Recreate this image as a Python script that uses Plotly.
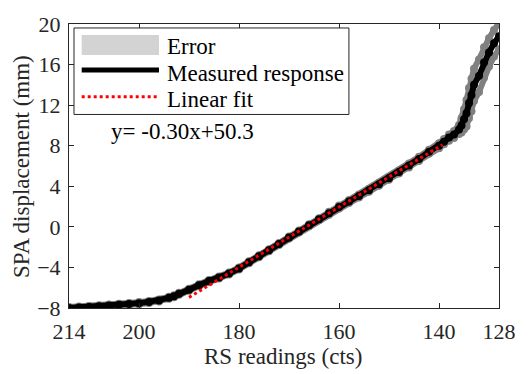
import plotly.graph_objects as go

# RS readings (cts) and measured SPA displacement (mm)
rs_counts = [214, 212, 210, 208, 206, 204, 202, 200, 198, 196, 194, 193, 192, 190,
             188, 186, 184, 182, 180, 178, 176, 174, 172, 170, 168, 166, 164, 162,
             160, 158, 156, 154, 152, 150, 148, 146, 144, 142, 140, 139, 138, 137,
             136, 135.5, 135, 134.5, 134, 133.5, 133, 132, 131, 130, 129, 128]
displacement = [-8.0, -7.95, -7.9, -7.82, -7.75, -7.67, -7.6, -7.52, -7.4, -7.25, -7.0, -6.85,
                -6.6, -6.2, -5.75, -5.35, -5.0, -4.6, -4.1, -3.5, -2.9, -2.3, -1.7, -1.05,
                -0.45, 0.15, 0.75, 1.35, 1.95, 2.5, 3.05, 3.6, 4.2, 4.8, 5.4, 6.05, 6.7,
                7.4, 8.0, 8.4, 8.8, 9.1, 9.6, 10.0, 10.6, 11.2, 12.2, 13.0, 14.0, 14.9,
                16.2, 17.2, 18.1, 18.8]
error_mm = [0.1, 0.1, 0.1, 0.1, 0.1, 0.1, 0.1, 0.1, 0.1, 0.1, 0.1, 0.1, 0.1, 0.1,
            0.1, 0.1, 0.1, 0.1, 0.1, 0.1, 0.1, 0.1, 0.1, 0.1, 0.1, 0.1, 0.1, 0.15,
            0.15, 0.15, 0.15, 0.15, 0.15, 0.15, 0.15, 0.2, 0.2, 0.2, 0.25, 0.25, 0.3, 0.35,
            0.45, 0.7, 1.0, 1.3, 1.5, 1.6, 1.6, 1.6, 1.5, 1.4, 1.3, 1.3]

# Linear fit end points (y = -0.30x + 50.3)
fit_x = [190, 139.3]
fit_y = [-6.95, 8.1]

x_ticks = [214, 200, 180, 160, 140, 128]
y_ticks = [-8, -4, 0, 4, 8, 12, 16, 20]

FONT = "Liberation Serif"
AX = "#262626"
GRAY = "#808080"

upper = [d + e for d, e in zip(displacement, error_mm)]
lower = [d - e for d, e in zip(displacement, error_mm)]

fig = go.Figure()
for band in (upper, lower):
    fig.add_trace(go.Scatter(x=rs_counts, y=band, mode="lines+markers",
                             line=dict(color=GRAY, width=6),
                             marker=dict(color=GRAY, size=8),
                             showlegend=False, hoverinfo="skip"))
fig.add_trace(go.Scatter(x=rs_counts, y=displacement, mode="lines+markers",
                         line=dict(color="black", width=6),
                         marker=dict(color="black", size=8, symbol="circle"),
                         showlegend=False))
fig.add_trace(go.Scatter(x=fit_x, y=fit_y, mode="lines",
                         line=dict(color="#ff0000", width=3, dash="dot"),
                         showlegend=False))

axis_common = dict(showline=True, linecolor=AX, linewidth=1, mirror="ticks",
                   ticks="inside", ticklen=5, tickwidth=1, tickcolor=AX,
                   showgrid=False, zeroline=False,
                   tickfont=dict(family=FONT, size=22, color=AX))
fig.update_xaxes(range=[214, 128], tickvals=x_ticks, ticklabelstandoff=4, **axis_common)
fig.update_yaxes(range=[-8, 20], tickvals=y_ticks, ticklabelstandoff=3, **axis_common)

# manual legend
shapes = [
    dict(type="rect", xref="paper", yref="paper", x0=0.0116, x1=0.651, y0=0.6815, y1=0.986,
         fillcolor="white", line=dict(color=AX, width=1), layer="above"),
    dict(type="rect", xref="paper", yref="paper", x0=0.0295, x1=0.2093, y0=0.891, y1=0.961,
         fillcolor="#d3d3d3", line=dict(width=0), layer="above"),
    dict(type="line", xref="paper", yref="paper", x0=0.0295, x1=0.2093, y0=0.838, y1=0.838,
         line=dict(color="black", width=5), layer="above"),
    dict(type="line", xref="paper", yref="paper", x0=0.0295, x1=0.2093, y0=0.744, y1=0.744,
         line=dict(color="#ff0000", width=3, dash="dot"), layer="above"),
]
legend_text = [("Error", 0.920), ("Measured response", 0.826), ("Linear fit", 0.735)]
annotations = [dict(text=t, xref="paper", yref="paper", x=0.223, y=yy, xanchor="left",
                    yanchor="middle", showarrow=False,
                    font=dict(family=FONT, size=23, color="black"))
               for t, yy in legend_text]
annotations += [
    dict(text="y= -0.30x+50.3", xref="paper", yref="paper", x=0.093, y=0.623,
         xanchor="left", yanchor="middle", showarrow=False,
         font=dict(family=FONT, size=23, color="black")),
    dict(text="RS readings (cts)", xref="paper", yref="paper", x=0.497, y=-0.172,
         xanchor="center", yanchor="middle", showarrow=False,
         font=dict(family=FONT, size=23, color=AX)),
    dict(text="SPA displacement (mm)", xref="paper", yref="paper", x=-0.109, y=0.497,
         xanchor="center", yanchor="middle", showarrow=False, textangle=-90,
         font=dict(family=FONT, size=23, color=AX)),
]

fig.update_layout(width=529, height=374, margin=dict(l=69, r=30, t=16, b=66),
                  paper_bgcolor="white", plot_bgcolor="white",
                  shapes=shapes, annotations=annotations, showlegend=False)

fig.write_html("out.html")
